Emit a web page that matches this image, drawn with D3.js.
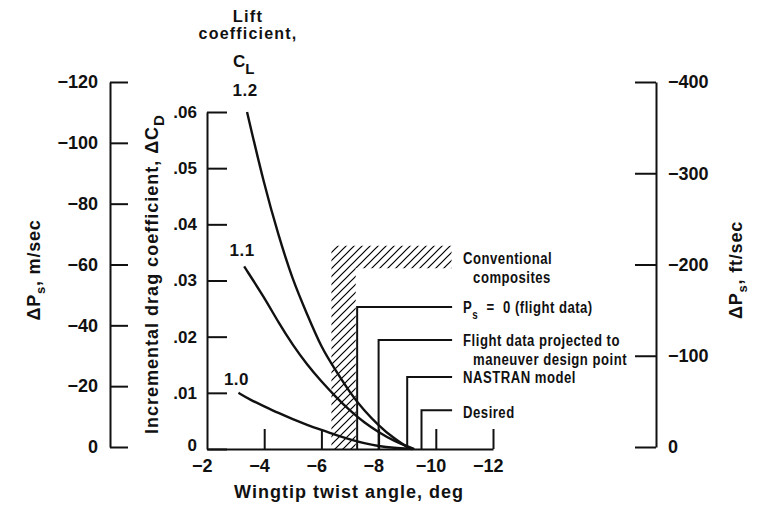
<!DOCTYPE html>
<html><head><meta charset="utf-8">
<script src="https://cdn.jsdelivr.net/npm/d3@7"></script>
<style>
html,body{margin:0;padding:0;background:#fff;}
svg{display:block;}
.b{font-family:'Liberation Sans',Arial,Helvetica,sans-serif;font-weight:bold;fill:#111;}
.n{font-family:'Liberation Sans',Arial,sans-serif;font-weight:bold;fill:#111;}
</style>
</head><body>
<script>
// ---- data ----
const xTicks = [-2, -4, -6, -8, -10, -12];
const cdTicks = [0, 0.01, 0.02, 0.03, 0.04, 0.05, 0.06];
const msTicks = [0, -20, -40, -60, -80, -100, -120];
const ftTicks = [0, -100, -200, -300, -400];

const clLabels = ["1.2", "1.1", "1.0"];
const cl12X = [-3.4, -4, -4.5, -5, -5.5, -6, -6.5, -7, -7.5, -8, -8.5, -9.1];
const cl12Y = [0.060, 0.047, 0.038, 0.030, 0.024, 0.018, 0.014, 0.010, 0.0068, 0.0042, 0.002, 0];
const cl11X = [-3.3, -4, -4.5, -5, -5.5, -6, -6.5, -7, -7.5, -8, -8.5, -9.25];
const cl11Y = [0.0325, 0.027, 0.0225, 0.0185, 0.015, 0.012, 0.0093, 0.0068, 0.0047, 0.003, 0.0015, 0];
const cl10X = [-3.1, -3.5, -4, -4.5, -5, -5.5, -6, -6.5, -7, -7.5, -8, -8.5, -9.2];
const cl10Y = [0.0100, 0.0088, 0.0076, 0.0064, 0.0053, 0.0043, 0.0034, 0.0025, 0.0017, 0.0010, 0.0005, 0.0002, 0];

// hatched "conventional composites" region (L shape)
const hatchX = [-6.35, -7.2, -10.55];
const hatchY = [0.0322, 0.0362];

// step markers: twist angle and incremental drag
const stepX = [-7.25, -8.0, -9.0, -9.5];
const stepY = [0.0253, 0.0194, 0.0128, 0.0069];
const stepEndX = -10.57;

// ---- chart ----
const W = 757, H = 513;
const svg = d3.select("body").append("svg").attr("width", W).attr("height", H);

const x = d3.scaleLinear().domain([-2, -12]).range([207, 493]);
const yCD = d3.scaleLinear().domain([0, 0.06]).range([449, 112]);
const yMS = d3.scaleLinear().domain([0, -120]).range([447, 82]);
const yFT = d3.scaleLinear().domain([0, -400]).range([447, 82]);

function styleAxis(g, fs) {
  g.select(".domain").attr("stroke", "#111").attr("stroke-width", 2);
  g.selectAll(".tick line").attr("stroke", "#111").attr("stroke-width", 2);
  g.selectAll(".tick text").attr("class", "b").attr("font-size", fs).attr("fill", "#111");
  g.attr("font-family", null).attr("font-size", null);
}

// left m/sec axis
const gMS = svg.append("g").attr("transform", "translate(110,0)")
  .call(d3.axisLeft(yMS).tickValues(msTicks).tickSize(-18).tickSizeOuter(0).tickPadding(12));
styleAxis(gMS, 18);

// right ft/sec axis
const gFT = svg.append("g").attr("transform", "translate(656,0)")
  .call(d3.axisRight(yFT).tickValues(ftTicks).tickSize(-21).tickSizeOuter(0).tickPadding(12));
styleAxis(gFT, 18);

// inner CD axis
const gCD = svg.append("g").attr("transform", "translate(207,0)")
  .call(d3.axisLeft(yCD).tickValues(cdTicks).tickSize(-20).tickSizeOuter(0).tickPadding(10)
    .tickFormat(d => d === 0 ? "0" : d3.format(".2f")(d).replace(/^0/, "")));
styleAxis(gCD, 17);
gCD.selectAll(".tick").filter(d => d === 0).select("text").attr("dy", "0.1em");

// x axis
const gX = svg.append("g").attr("transform", "translate(0,449)")
  .call(d3.axisBottom(x).tickValues(xTicks).tickSize(-20).tickSizeOuter(0).tickPadding(10));
styleAxis(gX, 18);
gX.selectAll(".tick").filter(d => d === -2).select("line").remove();
// center digits on tick, minus sign hanging left
gX.selectAll(".tick text").each(function(d) {
  const tmp = svg.append("text").attr("class", "b").attr("font-size", 18).text(String(Math.abs(d)));
  const dw = tmp.node().getComputedTextLength();
  tmp.remove();
  d3.select(this).attr("text-anchor", "end").attr("x", dw / 2);
});

// hatch pattern
const defs = svg.append("defs");
const pat = defs.append("pattern").attr("id", "hatch").attr("patternUnits", "userSpaceOnUse")
  .attr("width", 8).attr("height", 8);
pat.append("path").attr("d", "M-1,9 L9,-1 M-4,4 L4,-4 M4,12 L12,4")
  .attr("stroke", "#000").attr("stroke-width", 1.2);

const hatchPoly = [
  [hatchX[0], 0], [hatchX[0], hatchY[1]], [hatchX[2], hatchY[1]],
  [hatchX[2], hatchY[0]], [hatchX[1], hatchY[0]], [hatchX[1], 0]
];
svg.append("path")
  .attr("d", d3.line().x(d => x(d[0])).y(d => yCD(d[1]))(hatchPoly) + "Z")
  .attr("fill", "url(#hatch)").attr("stroke", "none");

// step marker lines
stepX.forEach((sx, i) => {
  const pts = [[sx, 0], [sx, stepY[i]], [stepEndX, stepY[i]]];
  svg.append("path")
    .attr("d", d3.line().x(d => x(d[0])).y(d => yCD(d[1]))(pts))
    .attr("fill", "none").attr("stroke", "#111").attr("stroke-width", 2);
});

// curves
const curveLine = d3.line().x(d => x(d[0])).y(d => yCD(d[1])).curve(d3.curveBasis);
const curves = [[cl12X, cl12Y], [cl11X, cl11Y], [cl10X, cl10Y]];
const labelDy = [-16, -10, -8];
curves.forEach(([cx, cy], i) => {
  const pts = cx.map((v, j) => [v, cy[j]]);
  svg.append("path").attr("d", curveLine(pts))
    .attr("fill", "none").attr("stroke", "#111").attr("stroke-width", 2.4);
  svg.append("text").attr("class", "b").attr("font-size", 17).attr("letter-spacing", 0.5)
    .attr("text-anchor", "middle")
    .attr("x", x(cx[0]) - 2).attr("y", yCD(cy[0]) + labelDy[i])
    .text(clLabels[i]);
});

// Lift coefficient header
const hx = 248;
svg.append("text").attr("class", "b").attr("font-size", 16.5).attr("letter-spacing", 1.2)
  .attr("text-anchor", "middle").attr("x", hx).attr("y", 22).text("Lift");
svg.append("text").attr("class", "b").attr("font-size", 16).attr("letter-spacing", 1.2)
  .attr("text-anchor", "middle").attr("x", hx).attr("y", 39).text("coefficient,");
const cl = svg.append("text").attr("class", "b").attr("font-size", 17)
  .attr("x", 233).attr("y", 67);
cl.append("tspan").text("C");
cl.append("tspan").attr("font-size", 15).attr("dy", 7).text("L");

// axis titles
const t1 = svg.append("text").attr("class", "b").attr("font-size", 18).attr("letter-spacing", 0.8)
  .attr("text-anchor", "middle").attr("transform", "translate(40,270) rotate(-90)");
t1.append("tspan").text("ΔP");
t1.append("tspan").attr("font-size", 13).attr("dy", 5).text("s");
t1.append("tspan").attr("dy", -5).text(", m/sec");

const t2 = svg.append("text").attr("class", "b").attr("font-size", 18).attr("letter-spacing", 0.8)
  .attr("text-anchor", "middle").attr("transform", "translate(742,270) rotate(-90)");
t2.append("tspan").text("ΔP");
t2.append("tspan").attr("font-size", 13).attr("dy", 5).text("s");
t2.append("tspan").attr("dy", -5).text(", ft/sec");

const t3 = svg.append("text").attr("class", "b").attr("font-size", 18).attr("letter-spacing", 1)
  .attr("text-anchor", "middle").attr("transform", "translate(158,274) rotate(-90)");
t3.append("tspan").text("Incremental drag coefficient, ΔC");
t3.append("tspan").attr("font-size", 15).attr("dy", 6).text("D");

svg.append("text").attr("class", "b").attr("font-size", 18).attr("letter-spacing", 1)
  .attr("text-anchor", "middle").attr("x", 349).attr("y", 498).text("Wingtip twist angle, deg");

// annotations (condensed via horizontal scale)
const ax = x(stepEndX) + 11;
const SX = 0.82;
const ann = (txt, xx, yy) => {
  const g = svg.append("g").attr("transform", `translate(${xx},${yy}) scale(${SX},1)`);
  return g.append("text").attr("class", "n").attr("font-size", 16).attr("letter-spacing", 0.6)
    .attr("x", 0).attr("y", 0).attr("dy", "0.36em").text(txt);
};
ann("Conventional", ax, 258);
ann("composites", ax + 10, 277);
const ps = ann("", ax, yCD(stepY[0]));
ps.append("tspan").text("P");
ps.append("tspan").attr("font-size", 12).attr("dy", 6).text("s");
ps.append("tspan").attr("dy", -6).attr("xml:space", "preserve").style("white-space", "pre").text("  =  0 (flight data)");
ann("Flight data projected to", ax, yCD(stepY[1]));
ann("maneuver design point", ax + 10, yCD(stepY[1]) + 19);
ann("NASTRAN model", ax, yCD(stepY[2]));
ann("Desired", ax, yCD(stepY[3]) + 2);
</script>
</body></html>
